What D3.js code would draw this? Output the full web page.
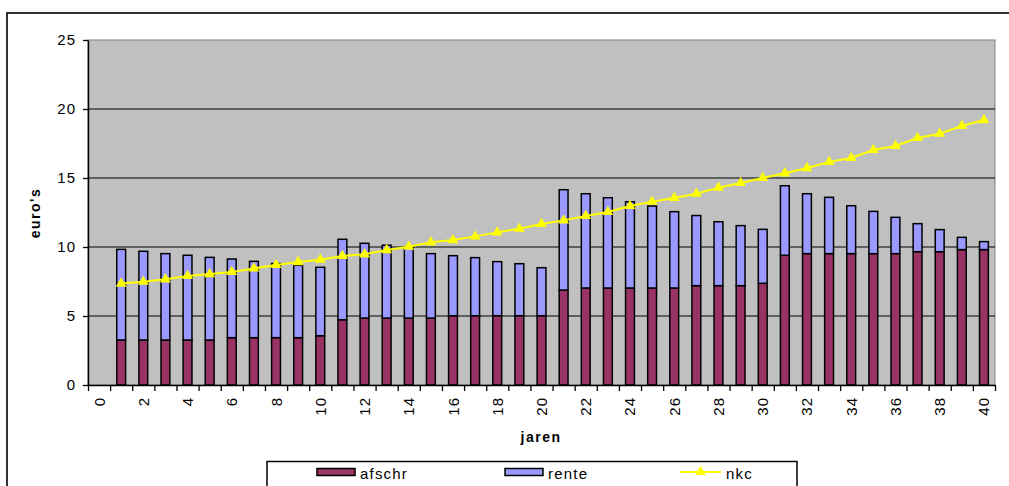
<!DOCTYPE html>
<html>
<head>
<meta charset="utf-8">
<script src="https://cdn.jsdelivr.net/npm/d3@7"></script>
<style>
  html, body { margin: 0; padding: 0; background: #fff; }
  svg { display: block; font-family: Arial, "Liberation Sans", sans-serif; }
</style>
</head>
<body>
<svg id="chart" width="1009" height="486"></svg>
<script>
// Yearly costs over 40 years: depreciation (afschr) and interest (rente) stacked, plus nkc line
const jaren = d3.range(0, 41);               // category axis 0..40
const jaarData = d3.range(1, 41);             // years with values
const afschr = [3.26, 3.26, 3.26, 3.26, 3.26, 3.43, 3.43, 3.43, 3.43, 3.57,
                4.73, 4.85, 4.85, 4.85, 4.85, 5.02, 5.02, 5.02, 5.02, 5.02,
                6.88, 7.03, 7.03, 7.03, 7.03, 7.03, 7.2, 7.2, 7.2, 7.37,
                9.4, 9.52, 9.52, 9.52, 9.52, 9.52, 9.66, 9.66, 9.81, 9.81];
const rente = [6.57, 6.43, 6.26, 6.14, 5.99, 5.7, 5.53, 5.37, 5.24, 4.96,
               5.83, 5.42, 5.28, 5.13, 4.67, 4.35, 4.21, 3.92, 3.77, 3.48,
               7.27, 6.83, 6.54, 6.25, 5.94, 5.53, 5.08, 4.63, 4.35, 3.91,
               5.04, 4.34, 4.08, 3.47, 3.06, 2.63, 2.03, 1.6, 0.89, 0.58];
const nkc = [7.35, 7.49, 7.66, 7.9, 8.04, 8.19, 8.45, 8.7, 8.91, 9.08,
             9.35, 9.47, 9.78, 10.02, 10.34, 10.5, 10.77, 11.06, 11.33, 11.67,
             11.93, 12.25, 12.54, 12.97, 13.28, 13.55, 13.86, 14.3, 14.64, 15.0,
             15.34, 15.72, 16.16, 16.45, 17.03, 17.32, 17.9, 18.21, 18.77, 19.2];
const yTicks = [0, 5, 10, 15, 20, 25];
const xLabels = jaren.filter(d => d % 2 === 0);

const kleur = { afschr: "#993366", rente: "#9999FF", nkc: "#FFFF00", vlak: "#C0C0C0" };

const svg = d3.select("#chart");
const L = 88, R = 995, T = 40, B = 385;

// outer chart frame
svg.append("rect").attr("x", 7).attr("y", 13).attr("width", 1020).attr("height", 500)
  .attr("fill", "#fff").attr("stroke", "#000").attr("stroke-width", 1.6);

const x = d3.scaleBand().domain(jaren).range([L, R]).paddingInner(0.6).paddingOuter(0.3);
const xEdge = d3.scaleLinear().domain([0, jaren.length]).range([L, R]);
const y = d3.scaleLinear().domain([0, 25]).range([B, T]);

// plot area
svg.append("rect").attr("x", L).attr("y", T).attr("width", R - L).attr("height", B - T)
  .attr("fill", kleur.vlak).attr("stroke", "#808080").attr("stroke-width", 1);

// horizontal gridlines
svg.append("g").selectAll("line").data(yTicks.filter(v => v > 0 && v < 25)).join("line")
  .attr("x1", L).attr("x2", R).attr("y1", d => y(d)).attr("y2", d => y(d))
  .attr("stroke", "#000").attr("stroke-width", 1);

// stacked bars
const stack = d3.stack().keys(["afschr", "rente"])(
  jaarData.map((j, i) => ({ jaar: j, afschr: afschr[i], rente: rente[i] })));
svg.append("g").selectAll("g").data(stack).join("g")
  .attr("fill", d => kleur[d.key])
  .selectAll("rect").data(d => d).join("rect")
  .attr("x", d => x(d.data.jaar))
  .attr("width", x.bandwidth())
  .attr("y", d => y(d[1]))
  .attr("height", d => y(d[0]) - y(d[1]))
  .attr("stroke", "#000").attr("stroke-width", 1.5);

// nkc line with triangle markers
const cx = j => x(j) + x.bandwidth() / 2;
svg.append("path").datum(nkc)
  .attr("fill", "none").attr("stroke", kleur.nkc).attr("stroke-width", 2)
  .attr("d", d3.line().x((d, i) => cx(jaarData[i])).y(d => y(d)));
const tri = d3.symbol().type(d3.symbolTriangle).size(50);
svg.append("g").selectAll("path").data(nkc).join("path")
  .attr("d", tri)
  .attr("transform", (d, i) => `translate(${cx(jaarData[i])},${y(d)})`)
  .attr("fill", kleur.nkc);

// y axis
const yAxis = svg.append("g").attr("transform", `translate(${L},0)`)
  .call(d3.axisLeft(y).tickValues(yTicks).tickSize(5).tickPadding(7).tickSizeOuter(0));
yAxis.select(".domain").attr("stroke", "#000").attr("stroke-width", 1.5);
yAxis.selectAll(".tick line").attr("stroke", "#000").attr("stroke-width", 1.3);
yAxis.selectAll("text").attr("font-size", 15).attr("letter-spacing", 1)
  .attr("font-family", "Arial, 'Liberation Sans', sans-serif").attr("fill", "#000");

// x axis: tick marks on category boundaries
const xTickAxis = svg.append("g").attr("transform", `translate(0,${B})`)
  .call(d3.axisBottom(xEdge).tickValues(d3.range(0, jaren.length + 1)).tickSize(6).tickFormat("").tickSizeOuter(0));
xTickAxis.select(".domain").attr("stroke", "#000").attr("stroke-width", 1.5);
xTickAxis.selectAll(".tick line").attr("stroke", "#000").attr("stroke-width", 1.3);

// x axis labels, rotated
const xAxis = svg.append("g").attr("transform", `translate(0,${B})`)
  .call(d3.axisBottom(x).tickValues(xLabels).tickSize(0).tickPadding(0));
xAxis.select(".domain").remove();
xAxis.selectAll("text")
  .attr("font-size", 15).attr("letter-spacing", 1)
  .attr("font-family", "Arial, 'Liberation Sans', sans-serif").attr("fill", "#000")
  .attr("text-anchor", "end").attr("dy", null).attr("y", 0)
  .attr("dominant-baseline", "central")
  .attr("transform", "translate(0,12) rotate(-90)");

// axis titles
svg.append("text").attr("x", 541).attr("y", 442).attr("text-anchor", "middle")
  .attr("font-size", 14).attr("font-weight", "bold").attr("letter-spacing", 1.5)
  .text("jaren");
svg.append("text").attr("transform", "translate(40,213) rotate(-90)").attr("text-anchor", "middle")
  .attr("font-size", 14).attr("font-weight", "bold").attr("letter-spacing", 1.5)
  .text("euro's");

// legend
const lg = svg.append("g");
lg.append("rect").attr("x", 267).attr("y", 461.5).attr("width", 530).attr("height", 40)
  .attr("fill", "#fff").attr("stroke", "#000").attr("stroke-width", 1.5);
const items = [
  { key: "afschr", x: 317 },
  { key: "rente", x: 505 },
  { key: "nkc", x: 680 }
];
const ly = 472;
items.forEach(it => {
  if (it.key === "nkc") {
    lg.append("line").attr("x1", it.x).attr("x2", it.x + 41).attr("y1", ly).attr("y2", ly)
      .attr("stroke", kleur.nkc).attr("stroke-width", 2);
    lg.append("path").attr("d", tri).attr("transform", `translate(${it.x + 20.5},${ly})`)
      .attr("fill", kleur.nkc);
    lg.append("text").attr("x", it.x + 46).attr("y", ly + 7)
      .attr("font-size", 15).attr("letter-spacing", 1.2).text(it.key);
  } else {
    lg.append("rect").attr("x", it.x).attr("y", ly - 3.5).attr("width", 38).attr("height", 7)
      .attr("fill", kleur[it.key]).attr("stroke", "#000").attr("stroke-width", 1.5);
    lg.append("text").attr("x", it.x + 43).attr("y", ly + 7)
      .attr("font-size", 15).attr("letter-spacing", 1.2).text(it.key);
  }
});
</script>
</body>
</html>
